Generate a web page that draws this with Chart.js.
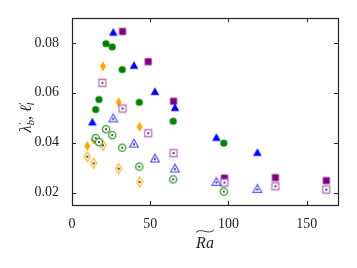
<!DOCTYPE html>
<html>
<head>
<meta charset="utf-8">
<script src="https://cdn.jsdelivr.net/npm/chart.js@4.4.0/dist/chart.umd.min.js"></script>
<style>
  html, body { margin: 0; padding: 0; background: #fff; }
</style>
</head>
<body>
<canvas id="plot" width="357" height="268"></canvas>
<script>
// values (Ra~ vs lambda'_b filled, l'_l open)
const greenRa = [15.1, 17.2, 21.7, 25.7, 32.1, 43.0, 64.7, 97.0];
const greenLambda = [0.0533, 0.0573, 0.0797, 0.0784, 0.0693, 0.0562, 0.0486, 0.0398];
const greenEll = [0.0418, 0.0402, 0.0454, 0.0430, 0.0380, 0.0304, 0.0253, 0.0204];

const orangeRa = [9.8, 13.8, 19.8, 29.8, 43.2];
const orangeLambda = [0.0387, 0.0411, 0.0706, 0.0562, 0.0464];
const orangeEll = [0.0344, 0.0317, 0.0389, 0.0296, 0.0242];

const blueRa = [13.0, 26.4, 39.6, 53.0, 65.8, 92.3, 118.5];
const blueLambda = [0.0482, 0.0842, 0.0709, 0.0604, 0.0540, 0.0420, 0.0360];
const blueEllRa = [26.4, 39.6, 53.0, 65.8, 92.3, 118.5];
const blueEll = [0.0497, 0.0396, 0.0336, 0.0296, 0.0242, 0.0214];

const purpleRa = [32.3, 48.7, 64.9, 97.4, 130.0, 162.5];
const purpleLambda = [0.0846, 0.0725, 0.0566, 0.0258, 0.0260, 0.0248];
const purpleEllRa = [19.4, 32.3, 48.7, 64.9, 97.4, 130.0, 162.5];
const purpleEll = [0.0640, 0.0537, 0.0438, 0.0358, 0.0240, 0.0225, 0.0212];

const xTickStep = 50;
const yTickStep = 0.02;

const tickFont = { family: '"Liberation Serif", serif', size: 14 };
const inkColor = '#222';

// little canvases used as point styles (matplotlib-like markers)
function marker(shape, color, open, edge) {
  const w = shape === 'diamond' ? 8 : 12;
  const h = 12;
  const cv = document.createElement('canvas');
  cv.width = w; cv.height = h;
  const g = cv.getContext('2d');
  const cx = w / 2, cy = h / 2;
  g.beginPath();
  if (shape === 'circle') {
    g.arc(cx, cy, 3.6, 0, Math.PI * 2);
  } else if (shape === 'square') {
    g.rect(cx - 3.5, cy - 3.5, 7, 7);
  } else if (shape === 'triangle') {
    g.moveTo(cx, cy - 4.4);
    g.lineTo(cx + 4.3, cy + 3.3);
    g.lineTo(cx - 4.3, cy + 3.3);
    g.closePath();
  } else {
    g.moveTo(cx, cy - 5);
    g.lineTo(cx + 3, cy);
    g.lineTo(cx, cy + 5);
    g.lineTo(cx - 3, cy);
    g.closePath();
  }
  if (open) {
    g.fillStyle = '#fff';
    g.fill();
    g.lineWidth = 1.3;
    g.strokeStyle = edge;
    g.stroke();
    g.beginPath();
    g.arc(cx, shape === 'triangle' ? cy + 0.6 : cy, 1, 0, Math.PI * 2);
    g.fillStyle = '#111';
    g.fill();
  } else {
    g.fillStyle = color;
    g.fill();
  }
  return cv;
}

function pts(xs, ys) {
  return xs.map((x, i) => ({ x: x, y: ys[i] }));
}

function series(label, xs, ys, style) {
  return { label: label, data: pts(xs, ys), pointStyle: style, pointRadius: 4, pointHoverRadius: 4 };
}

// draws the box and inward ticks on all four sides, plus axis titles
const framePlugin = {
  id: 'frame',
  afterDraw(chart) {
    const ctx = chart.ctx;
    const a = chart.chartArea;
    const xs = chart.scales.x, ys = chart.scales.y;
    ctx.save();
    ctx.strokeStyle = inkColor;
    ctx.lineWidth = 1;
    ctx.beginPath();
    xs.ticks.forEach(t => {
      const px = Math.round(xs.getPixelForValue(t.value)) + 0.5;
      ctx.moveTo(px, a.bottom); ctx.lineTo(px, a.bottom - 4);
      ctx.moveTo(px, a.top); ctx.lineTo(px, a.top + 4);
    });
    ys.ticks.forEach(t => {
      const py = Math.round(ys.getPixelForValue(t.value)) + 0.5;
      ctx.moveTo(a.left, py); ctx.lineTo(a.left + 4, py);
      ctx.moveTo(a.right, py); ctx.lineTo(a.right - 4, py);
    });
    ctx.stroke();
    ctx.lineWidth = 1.2;
    ctx.strokeRect(Math.round(a.left) + 0.5, Math.round(a.top) + 0.5,
                   Math.round(a.right - a.left), Math.round(a.bottom - a.top));

    // x title: Ra with a wide tilde
    ctx.fillStyle = inkColor;
    ctx.font = 'italic 16px "Liberation Serif", serif';
    ctx.textAlign = 'center';
    ctx.textBaseline = 'alphabetic';
    ctx.fillText('Ra', 205, 248);
    ctx.lineWidth = 0.9;
    ctx.beginPath();
    ctx.moveTo(196, 232.5);
    ctx.bezierCurveTo(201, 227, 209, 236, 214, 229.5);
    ctx.stroke();

    // y title: lambda'_b, l'_l rotated
    ctx.translate(27, 115);
    ctx.rotate(-Math.PI / 2);
    ctx.textAlign = 'left';
    ctx.textBaseline = 'middle';
    const big = 'italic 16px "Liberation Serif", serif';
    const small = 'italic 11px "Liberation Serif", serif';
    const parts = [
      ['\u03bb', big, 0], ['\u2032', small, -4], ['b', small, 4],
      [', ', big, 0],
      ['\u2113', big, 0], ['\u2032', small, -4], ['l', small, 4]
    ];
    let total = 0;
    parts.forEach(p => { ctx.font = p[1]; total += ctx.measureText(p[0]).width; });
    let cx = -total / 2;
    parts.forEach((p, i) => {
      ctx.font = p[1];
      // prime and subscript stack over each other
      const wdt = ctx.measureText(p[0]).width;
      ctx.fillText(p[0], cx, p[2]);
      if (p[0] === '\u2032') return;
      cx += wdt;
    });
    ctx.restore();
  }
};

new Chart(document.getElementById('plot'), {
  type: 'scatter',
  data: {
    datasets: [
      series('green open', greenRa, greenEll, marker('circle', '#008000', true, 'rgba(0,128,0,0.8)')),
      series('blue open', blueEllRa, blueEll, marker('triangle', '#0000ff', true, 'rgba(40,40,255,0.75)')),
      series('purple open', purpleEllRa, purpleEll, marker('square', '#800080', true, 'rgba(160,70,170,0.75)')),
      series('orange open', orangeRa, orangeEll, marker('diamond', '#ffa500', true, 'rgba(255,165,0,0.8)')),
      series('green', greenRa, greenLambda, marker('circle', '#008000', false)),
      series('blue', blueRa, blueLambda, marker('triangle', '#0000ff', false)),
      series('purple', purpleRa, purpleLambda, marker('square', '#800080', false)),
      series('orange', orangeRa, orangeLambda, marker('diamond', '#ffa500', false))
    ]
  },
  options: {
    responsive: false,
    animation: false,
    events: [],
    layout: { padding: { left: 0, right: 19, top: 18, bottom: 0 } },
    plugins: { legend: { display: false }, tooltip: { enabled: false } },
    scales: {
      x: {
        type: 'linear',
        min: 0,
        max: 170,
        grid: { display: false },
        border: { display: false },
        ticks: { stepSize: xTickStep, includeBounds: false, font: tickFont, color: inkColor, padding: 3, maxRotation: 0 },
        afterFit(s) { s.height = 63; }
      },
      y: {
        type: 'linear',
        min: 0.015,
        max: 0.09,
        grid: { display: false },
        border: { display: false },
        ticks: {
          stepSize: yTickStep, includeBounds: false, font: tickFont, color: inkColor, padding: 5,
          callback: v => v.toFixed(2)
        },
        afterFit(s) { s.width = 72; }
      }
    }
  },
  plugins: [framePlugin]
});
</script>
</body>
</html>
